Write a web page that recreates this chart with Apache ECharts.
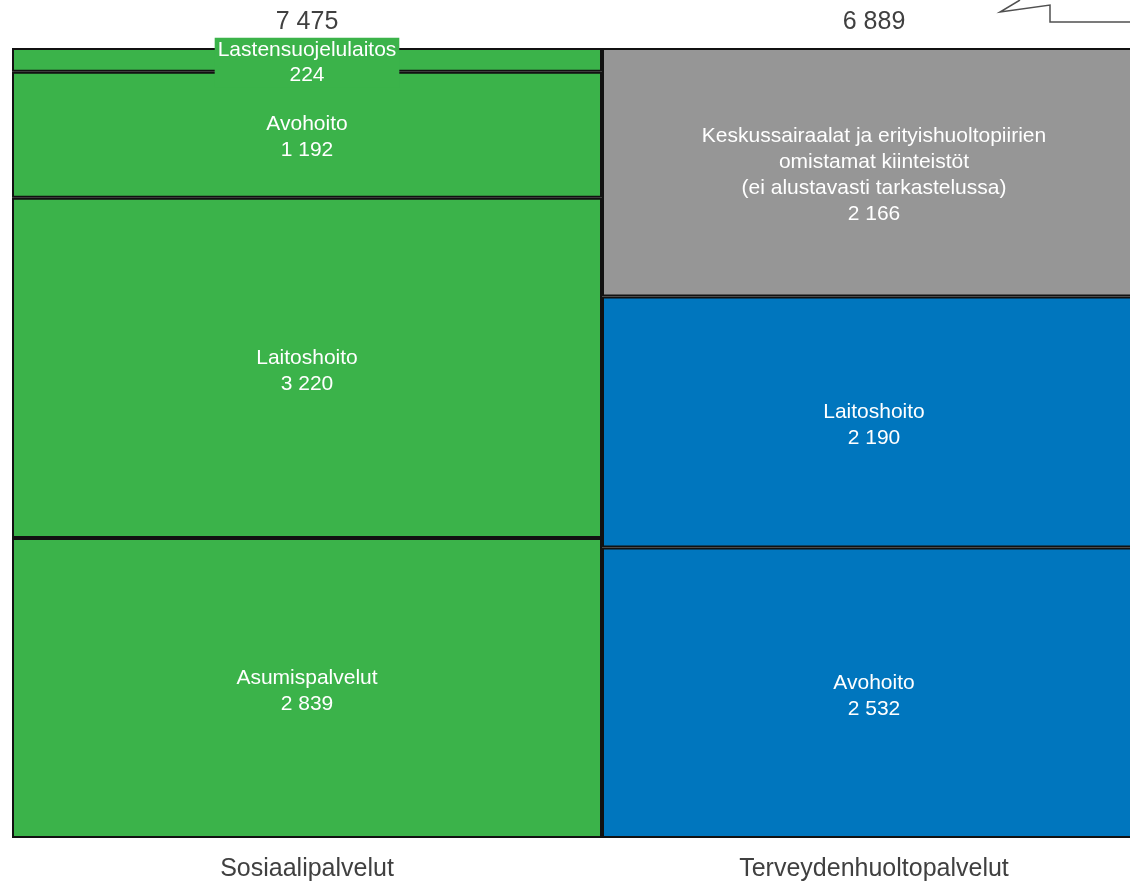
<!DOCTYPE html>
<html>
<head>
<meta charset="utf-8">
<script src="https://cdn.jsdelivr.net/npm/echarts@6/dist/echarts.min.js"></script>
<style>
  html, body { margin: 0; padding: 0; background: #fff; }
  #chart { width: 1130px; height: 883px; }
</style>
</head>
<body>
<div id="chart"></div>
<script>
// Columns and their stated totals
const categories = ['Sosiaalipalvelut', 'Terveydenhuoltopalvelut'];
const totals = [7475, 6889];

// Segments of each column, bottom to top
const socialNames = ['Asumispalvelut', 'Laitoshoito', 'Avohoito', 'Lastensuojelulaitos'];
const socialValues = [2839, 3220, 1192, 224];

const healthNames = ['Avohoito', 'Laitoshoito',
  'Keskussairaalat ja erityishuoltopiirien\nomistamat kiinteistöt\n(ei alustavasti tarkastelussa)'];
const healthValues = [2532, 2190, 2166];

const GREEN = '#3BB34A';
const BLUE = '#0076BE';
const GREY = '#969696';
const FONT = '"Liberation Sans", Arial, sans-serif';
const AXIS_TEXT = '#404040';

// Finnish thousands separator
const fmt = v => String(v).replace(/\B(?=(\d{3})+(?!\d))/g, ' ');

const sum = a => a.reduce((s, v) => s + v, 0);
const socialSum = sum(socialValues);
const healthSum = sum(healthValues);

const segLabel = (name, raw, extra) => Object.assign({
  show: true,
  position: 'inside',
  offset: [0, 3],
  color: '#fff',
  fontFamily: FONT,
  fontSize: 21,
  lineHeight: 26,
  formatter: () => name + '\n' + fmt(raw)
}, extra || {});

const series = [];
socialNames.forEach((name, i) => {
  const top = i === socialNames.length - 1;
  series.push({
    type: 'bar', stack: 'social', name,
    xAxisIndex: 0, yAxisIndex: 0,
    data: [socialValues[i] / socialSum * 100],
    barWidth: '100%',
    itemStyle: { color: GREEN, borderColor: '#111', borderWidth: 2 },
    // thin top slice: its label sits on a green box across the edge
    label: segLabel(name, socialValues[i], top ? { backgroundColor: GREEN, padding: [0, 3], lineHeight: 25 } : null),
    z: top ? 3 : 2
  });
});
healthNames.forEach((name, i) => {
  series.push({
    type: 'bar', stack: 'health', name,
    xAxisIndex: 2, yAxisIndex: 1,
    data: [healthValues[i] / healthSum * 100],
    barWidth: '100%',
    itemStyle: { color: i === 2 ? GREY : BLUE, borderColor: '#111', borderWidth: 2 },
    label: segLabel(name, healthValues[i])
  });
});

const captionAxis = (gridIndex, text, position, margin) => ({
  type: 'category', gridIndex, data: [text], position,
  axisLine: { show: false }, axisTick: { show: false },
  axisLabel: { margin, fontFamily: FONT, fontSize: 25, color: AXIS_TEXT, hideOverlap: false }
});
const valueAxis = gridIndex => ({
  type: 'value', gridIndex, min: 0, max: 100, show: false, splitLine: { show: false }
});

const chart = echarts.init(document.getElementById('chart'), null, { renderer: 'canvas' });
chart.setOption({
  animation: false,
  backgroundColor: '#fff',
  grid: [
    { left: 12, width: 590, top: 48, bottom: 45, outerBoundsMode: 'none', containLabel: false },
    { left: 602, width: 544, top: 48, bottom: 45, outerBoundsMode: 'none', containLabel: false }
  ],
  xAxis: [
    captionAxis(0, categories[0], 'bottom', 19),
    captionAxis(0, fmt(totals[0]), 'top', 13),
    captionAxis(1, categories[1], 'bottom', 19),
    captionAxis(1, fmt(totals[1]), 'top', 13)
  ],
  yAxis: [valueAxis(0), valueAxis(1)],
  series,
  graphic: [{
    type: 'polyline',
    shape: { points: [[1020, 0], [1000, 12], [1050, 5], [1050, 22], [1130, 22]] },
    style: { stroke: '#505050', lineWidth: 1.5, fill: null }
  }]
});
</script>
</body>
</html>
